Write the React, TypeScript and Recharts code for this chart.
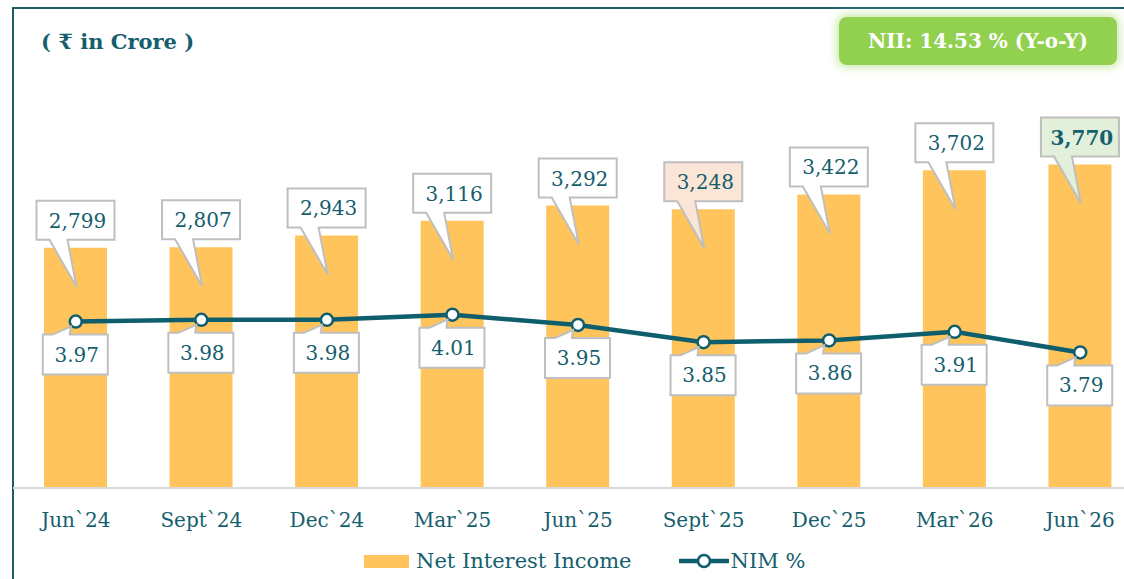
import React from "react";
import { ComposedChart, Bar, Line, XAxis, YAxis, LabelList } from "recharts";

const quarters = ["Jun`24", "Sept`24", "Dec`24", "Mar`25", "Jun`25", "Sept`25", "Dec`25", "Mar`26", "Jun`26"];
const nii = [2799, 2807, 2943, 3116, 3292, 3248, 3422, 3702, 3770];
const nim = [3.97, 3.98, 3.98, 4.01, 3.95, 3.85, 3.86, 3.91, 3.79];

const TEAL = "#145E6D";
const LINE = "#0E5E6D";
const BAR = "#FFC55C";
const BOX_STROKE = "#BFBFBF";
const FONT = "'DejaVu Serif', serif";

const chartData = quarters.map((q, i) => ({ name: q, nii: nii[i], nim: nim[i] }));

// callout above each bar, tail pointing down into the bar
function BarCallout(props: any) {
  const { x, y, width, value } = props;
  const idx = nii.indexOf(Number(value));
  const cx = x + width / 2;
  const top = y - 47;
  const bot = y - 8;
  const l = cx - 39;
  const r = cx + 39;
  const d = `M${l},${top} L${r},${top} L${r},${bot} L${cx - 8},${bot} L${cx + 1},${y + 39} L${cx - 26},${bot} L${l},${bot} Z`;
  let fill = "#FFFFFF";
  if (idx === 5) fill = "#FBE5D6";
  if (idx === 8) fill = "#E2EFDA";
  return (
    <g>
      <path d={d} fill={fill} stroke={BOX_STROKE} strokeWidth={2} strokeLinejoin="miter" />
      <text x={cx + 2} y={top + 27} textAnchor="middle" fill={TEAL} fontSize={20}
        fontFamily={FONT} fontWeight={idx === 8 ? "bold" : "normal"}>
        {Number(value).toLocaleString("en-US")}
      </text>
    </g>
  );
}

// callout below each NIM point, tail pointing up to the marker
function LineCallout(props: any) {
  const { x, y, value } = props;
  const top = y + 13;
  const bot = y + 53;
  const l = x - 33;
  const r = x + 32;
  const d = `M${l},${top} L${x - 23},${top} L${x - 5},${y + 5} L${x - 6},${top} L${r},${top} L${r},${bot} L${l},${bot} Z`;
  return (
    <g>
      <path d={d} fill="#FFFFFF" stroke={BOX_STROKE} strokeWidth={2} />
      <text x={x + 1} y={top + 27} textAnchor="middle" fill={TEAL} fontSize={20} fontFamily={FONT}>
        {Number(value).toFixed(2)}
      </text>
    </g>
  );
}

function QuarterTick(props: any) {
  const { x, y, payload } = props;
  return (
    <text x={x} y={y + 31} textAnchor="middle" fill={TEAL} fontSize={20} fontFamily={FONT}>
      {payload.value}
    </text>
  );
}

export default function App() {
  return (
    <div style={{ position: "fixed", left: 0, top: 0, width: 1124, height: 579, overflow: "hidden", background: "#fff" }}>
      <div style={{ position: "absolute", left: 12, top: 7, width: 2, height: 572, background: "#1D5D6C" }} />
      <div style={{ position: "absolute", left: 12, top: 7, width: 1112, height: 2, background: "#1D5D6C" }} />

      <div style={{ position: "absolute", left: 41, top: 29, fontFamily: FONT, fontWeight: "bold", fontSize: 21, color: TEAL }}>
        ( ₹ in Crore )
      </div>

      <div style={{
        position: "absolute", left: 839, top: 17, width: 278, height: 48, borderRadius: 8,
        background: "#92D050", boxShadow: "0 0 8px 3px #CDEBB0", display: "flex",
        alignItems: "center", justifyContent: "center", color: "#fff", fontFamily: FONT,
        fontWeight: "bold", fontSize: 20,
      }}>
        NII: 14.53 % (Y-o-Y)
      </div>

      <div style={{ position: "absolute", left: 0, top: 0 }}>
        <ComposedChart width={1145} height={579} data={chartData}
          margin={{ top: 59, right: 2, bottom: 61, left: 13 }}>
          <XAxis dataKey="name" height={30} axisLine={{ stroke: "#D9D9D9", strokeWidth: 2 }} tickLine={false}
            tick={<QuarterTick />} interval={0} />
          <YAxis yAxisId="left" hide domain={[0, 5000]} />
          <YAxis yAxisId="right" orientation="right" hide domain={[3, 5.5]} />
          <Bar yAxisId="left" dataKey="nii" fill={BAR} barSize={63} isAnimationActive={false}>
            <LabelList dataKey="nii" content={<BarCallout />} />
          </Bar>
          <Line yAxisId="right" dataKey="nim" type="linear" stroke={LINE} strokeWidth={4.5}
            dot={{ r: 6, fill: "#fff", stroke: LINE, strokeWidth: 2.5 }} activeDot={false}
            isAnimationActive={false}>
            <LabelList dataKey="nim" content={<LineCallout />} />
          </Line>
        </ComposedChart>
      </div>

      <div style={{ position: "absolute", left: 364, top: 548, display: "flex", alignItems: "center", fontFamily: FONT, fontSize: 21, color: TEAL }}>
        <div style={{ width: 45, height: 13, background: BAR, marginRight: 7 }} />
        <span>Net Interest Income</span>
        <svg width={50} height={26} style={{ marginLeft: 47, marginRight: 2 }}>
          <line x1={1} y1={13} x2={49} y2={13} stroke={LINE} strokeWidth={4.5} strokeLinecap="round" />
          <circle cx={25} cy={13} r={6} fill="#fff" stroke={LINE} strokeWidth={2.5} />
        </svg>
        <span>NIM %</span>
      </div>
    </div>
  );
}
